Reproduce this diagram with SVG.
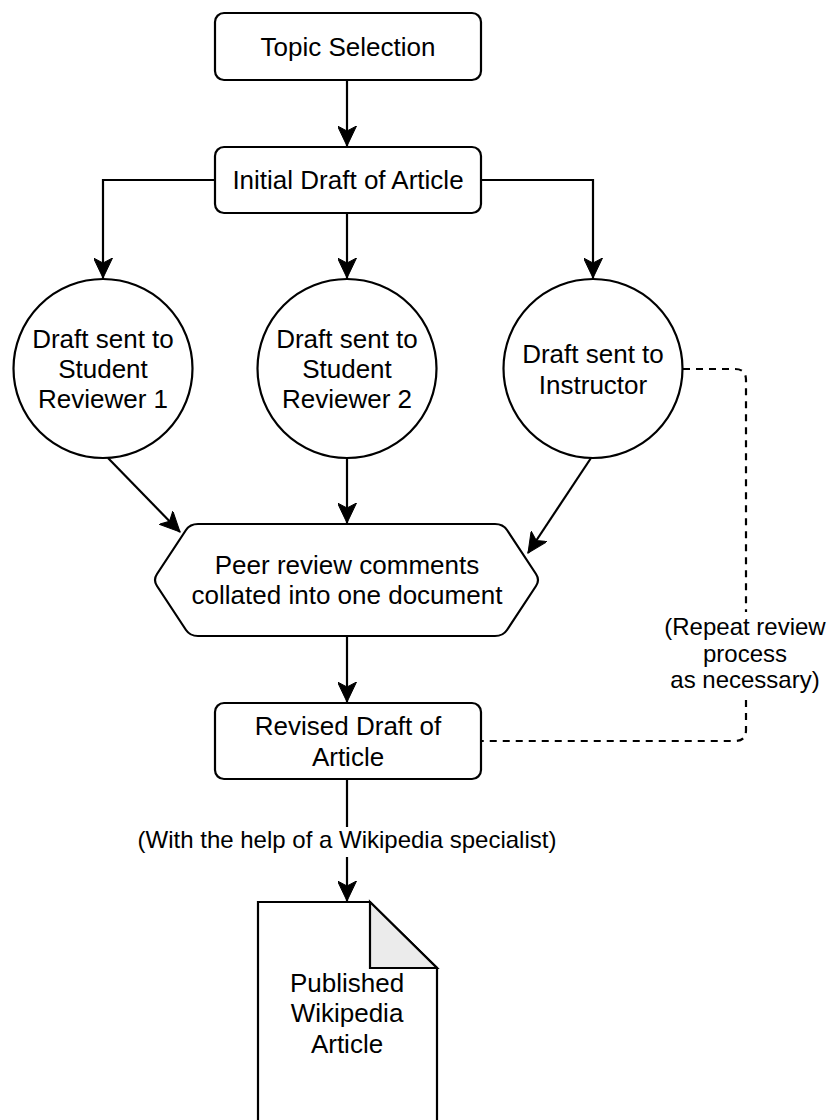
<svg xmlns="http://www.w3.org/2000/svg" width="828" height="1120" viewBox="0 0 828 1120">
<style>
.s{fill:#fff;stroke:#000;stroke-width:2.2}
.t{font-family:"Liberation Sans",Arial,sans-serif;font-size:26px;fill:#000;text-anchor:middle}
.l{font-family:"Liberation Sans",Arial,sans-serif;font-size:24px;fill:#000;text-anchor:middle}
.c{fill:none;stroke:#000;stroke-width:2.2}
.d{fill:none;stroke:#000;stroke-width:2.2;stroke-dasharray:7 6}
</style>
<defs>
<marker id="a" markerUnits="userSpaceOnUse" markerWidth="21" markerHeight="19" refX="20" refY="9.5" orient="auto" viewBox="0 0 21 19">
<path d="M0,0 L20,9.5 L0,19 L5,9.5 z" fill="#000" stroke="#000" stroke-width="1"/>
</marker>
</defs>
<rect width="828" height="1120" fill="#fff"/>
<g id="connectors">
<path class="c" d="M347,80 V146" marker-end="url(#a)"/>
<path class="c" d="M215,180 H103 V278" marker-end="url(#a)"/>
<path class="c" d="M347,213 V278" marker-end="url(#a)"/>
<path class="c" d="M481,180 H593 V278" marker-end="url(#a)"/>
<path class="c" d="M108,458 L180,532" marker-end="url(#a)"/>
<path class="c" d="M347,458 V523" marker-end="url(#a)"/>
<path class="c" d="M591,458 L528,553" marker-end="url(#a)"/>
<path class="c" d="M347,636 V702" marker-end="url(#a)"/>
<path class="c" d="M347,779 V827"/>
<path class="c" d="M347,857 V901" marker-end="url(#a)"/>
<path class="d" d="M683,369 H735 Q746,369 746,380 V612"/>
<path class="d" d="M746,700 V730 Q746,741 735,741 H482"/>
<text class="l" x="745" y="635">(Repeat review</text>
<text class="l" x="745" y="662">process</text>
<text class="l" x="745" y="688">as necessary)</text>
<text class="l" x="347" y="848">(With the help of a Wikipedia specialist)</text>
</g>
<g id="topic">
<rect class="s" x="215" y="13" width="266" height="67" rx="9"/>
<text class="t" x="348" y="56">Topic Selection</text>
</g>
<g id="initial">
<rect class="s" x="215" y="147" width="266" height="66" rx="9"/>
<text class="t" x="348" y="189">Initial Draft of Article</text>
</g>
<g id="reviewer1">
<circle class="s" cx="103" cy="368.5" r="89.5"/>
<text class="t" x="103" y="348">Draft sent to</text>
<text class="t" x="103" y="378">Student</text>
<text class="t" x="103" y="408">Reviewer 1</text>
</g>
<g id="reviewer2">
<circle class="s" cx="347" cy="368.5" r="89.5"/>
<text class="t" x="347" y="348">Draft sent to</text>
<text class="t" x="347" y="378">Student</text>
<text class="t" x="347" y="408">Reviewer 2</text>
</g>
<g id="instructor">
<circle class="s" cx="593" cy="368.5" r="89.5"/>
<text class="t" x="593" y="363">Draft sent to</text>
<text class="t" x="593" y="394">Instructor</text>
</g>
<g id="collated">
<path class="s" d="M157,574 L186,530 Q190,524 198,524 H495 Q503,524 507,530 L536,574 Q540,580 536,586 L507,630 Q503,636 495,636 H198 Q190,636 186,630 L157,586 Q153,580 157,574 z"/>
<text class="t" x="347" y="574">Peer review comments</text>
<text class="t" x="347" y="604">collated into one document</text>
</g>
<g id="revised">
<rect class="s" x="215" y="703" width="266" height="76" rx="9"/>
<text class="t" x="348" y="735">Revised Draft of</text>
<text class="t" x="348" y="766">Article</text>
</g>
<g id="published">
<path class="s" d="M258,1125 V902 H370 L437,968 V1125"/>
<path d="M370,902 L437,968 H370 z" fill="#ebebeb" stroke="#000" stroke-width="2.2" stroke-linejoin="miter"/>
<text class="t" x="347" y="992">Published</text>
<text class="t" x="347" y="1022">Wikipedia</text>
<text class="t" x="347" y="1053">Article</text>
</g>
</svg>
